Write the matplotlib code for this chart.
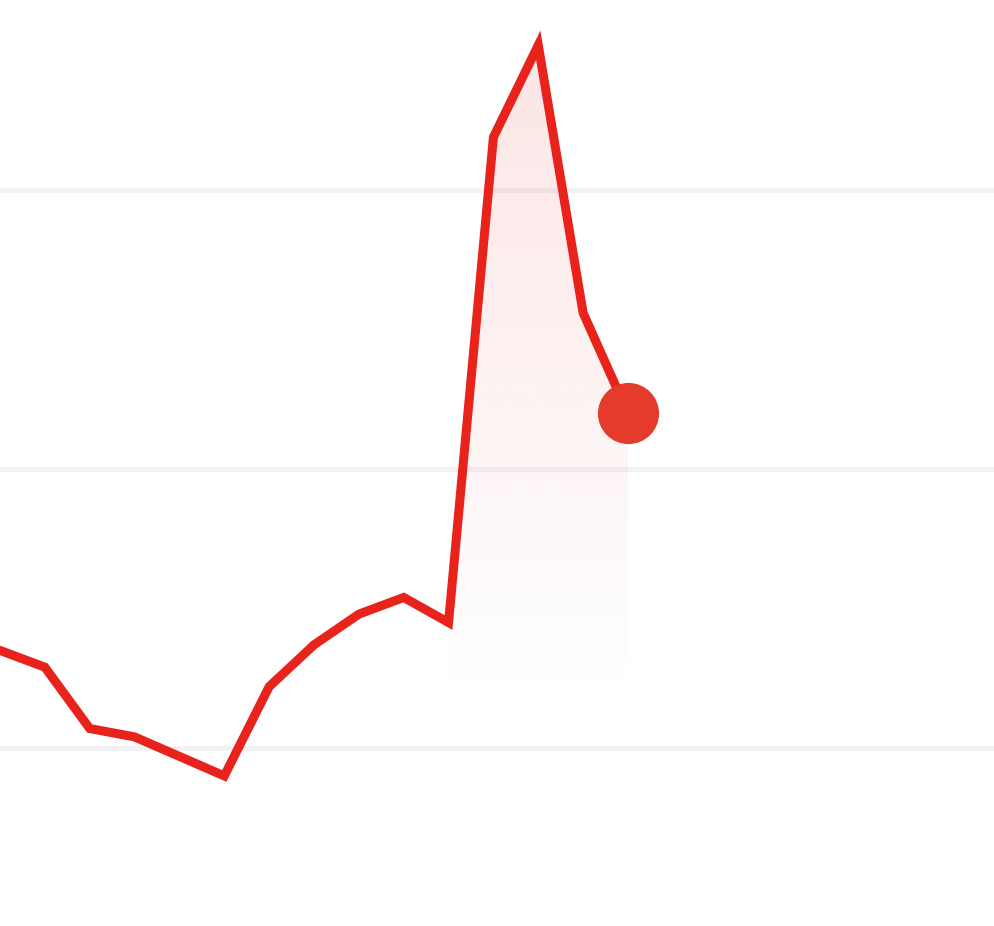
import numpy as np
import matplotlib
matplotlib.use("Agg")
import matplotlib.pyplot as plt
from matplotlib.patches import Polygon

# Data
values = [13.5, 12.9, 10.7, 10.4, 9.7, 9.0, 12.2, 13.7, 14.8, 15.4, 14.5, 31.9, 35.2, 25.6, 22.0]
grid_levels = [10, 20, 30]
fill_start = 10  # index where shaded area begins

x = np.arange(len(values))
y = np.array(values)

fig = plt.figure(figsize=(9.94, 9.26), dpi=100)
ax = fig.add_axes([0, 0, 1, 1])
ax.axis("off")

for g in grid_levels:
    ax.axhline(g, color="#f2f2f2", lw=3.5, zorder=0)

# gradient fill under the last segment
xs = x[fill_start:]
ys = y[fill_start:]
base = 11.7
top = ys.max()
verts = [(xs[0], base)] + list(zip(xs, ys)) + [(xs[-1], base)]
poly = Polygon(verts, closed=True, facecolor="none", edgecolor="none")
ax.add_patch(poly)
grad = np.linspace(0, 1, 256)
rgba = np.zeros((256, 1, 4))
rgba[:, 0, 0] = 0.93
rgba[:, 0, 1] = 0.2
rgba[:, 0, 2] = 0.2
rgba[:, 0, 3] = 0.13 * grad
im = ax.imshow(rgba, extent=[xs[0], xs[-1], base, top], origin="lower",
               aspect="auto", zorder=1, interpolation="bilinear")
im.set_clip_path(poly)

ax.plot(x, y, color="#e8231b", lw=6.5, solid_joinstyle="miter", zorder=2)
ax.plot(x[-1], y[-1], "o", color="#e43b2c", markersize=43, zorder=3)

ax.set_xlim(0, 22.16)
ax.set_ylim(3.62, 36.82)

fig.savefig("out.png", dpi=100)
